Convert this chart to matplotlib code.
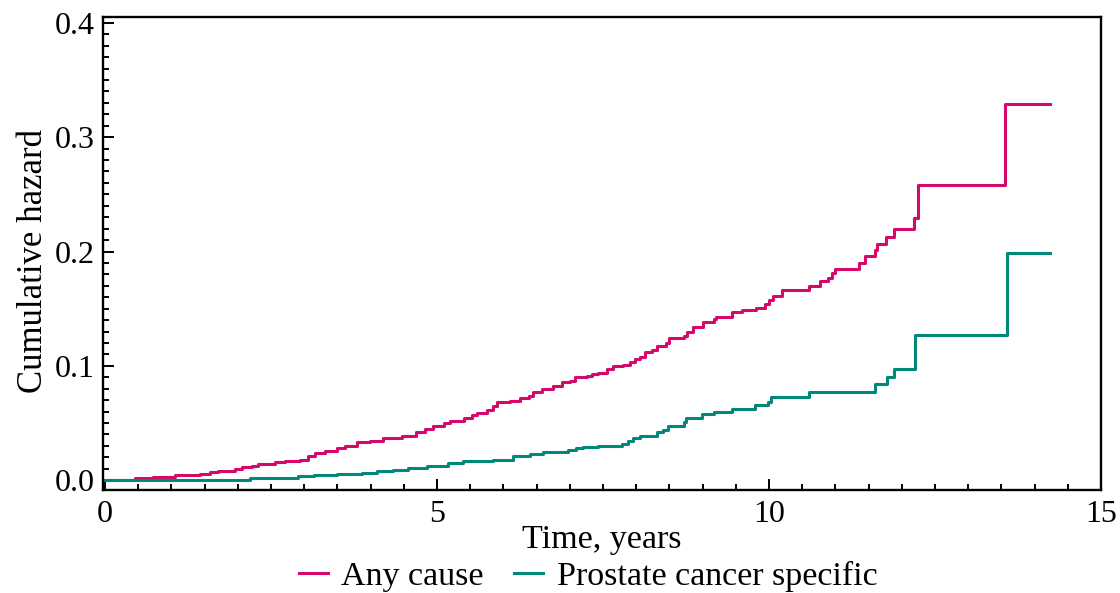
import numpy as np
import matplotlib.pyplot as plt
from matplotlib.ticker import MultipleLocator

# step points (time in years, cumulative hazard after the step)
any_t = [0, 0.45, 0.72, 1.05, 1.43, 1.58, 1.70, 1.96, 2.06, 2.21,
         2.31, 2.56, 2.71, 2.94, 3.06, 3.16, 3.31, 3.49, 3.61, 3.80,
         3.99, 4.19, 4.47, 4.68, 4.82, 4.94, 5.10, 5.20, 5.40, 5.53,
         5.60, 5.75, 5.84, 5.90, 6.10, 6.25, 6.39, 6.45, 6.58, 6.75,
         6.88, 7.00, 7.08, 7.26, 7.33, 7.43, 7.56, 7.65, 7.80, 7.90,
         7.98, 8.06, 8.13, 8.24, 8.31, 8.45, 8.50, 8.72, 8.76, 8.86,
         9.00, 9.17, 9.20, 9.44, 9.60, 9.80, 9.94, 10.00, 10.06, 10.20,
         10.60, 10.77, 10.89, 10.95, 11.00, 11.35, 11.45, 11.60, 11.63, 11.76,
         11.88, 12.18, 12.24, 13.55, 14.23]
any_h = [0, 0.0017, 0.0026, 0.0044, 0.0052, 0.0070, 0.0079, 0.0096, 0.0114, 0.0122,
         0.0140, 0.0157, 0.0166, 0.0180, 0.0210, 0.0236, 0.0253, 0.0280, 0.0297, 0.0330,
         0.0340, 0.0367, 0.0384, 0.0420, 0.0445, 0.0470, 0.0498, 0.0515, 0.0540, 0.0568,
         0.0590, 0.0610, 0.0646, 0.0680, 0.0690, 0.0716, 0.0734, 0.0770, 0.0795, 0.0820,
         0.0856, 0.0865, 0.0900, 0.0908, 0.0926, 0.0940, 0.0970, 0.0996, 0.1010, 0.1030,
         0.1060, 0.1080, 0.1120, 0.1140, 0.1170, 0.1200, 0.1240, 0.1260, 0.1300, 0.1340,
         0.1380, 0.1410, 0.1430, 0.1470, 0.1490, 0.1510, 0.1540, 0.1580, 0.1610, 0.1660,
         0.1700, 0.1740, 0.1770, 0.1810, 0.1850, 0.1900, 0.1960, 0.2010, 0.2070, 0.2130,
         0.2200, 0.2290, 0.2585, 0.3290, 0.3290]

pc_t = [0, 2.18, 2.90, 3.14, 3.50, 3.87, 4.10, 4.34, 4.56, 4.85,
        5.17, 5.39, 5.84, 6.15, 6.40, 6.60, 6.97, 7.10, 7.20, 7.43,
        7.79, 7.88, 7.95, 8.06, 8.31, 8.40, 8.48, 8.72, 8.75, 8.99,
        9.17, 9.44, 9.79, 9.98, 10.03, 10.60, 11.60, 11.78, 11.88, 12.20,
        13.58, 14.23]
pc_h = [0, 0.0017, 0.0035, 0.0044, 0.0052, 0.0060, 0.0079, 0.0087, 0.0105, 0.0122,
        0.0148, 0.0166, 0.0180, 0.0210, 0.0227, 0.0245, 0.0260, 0.0280, 0.0290, 0.0300,
        0.0320, 0.0340, 0.0367, 0.0384, 0.0420, 0.0437, 0.0470, 0.0507, 0.0540, 0.0576,
        0.0594, 0.0620, 0.0655, 0.0680, 0.0725, 0.0770, 0.0840, 0.0900, 0.0970, 0.1266,
        0.1990, 0.1990]

labels = ['Any cause', 'Prostate cancer specific']
colors = ['#d6096b', '#00897b']

plt.rcParams['font.family'] = ['Liberation Serif', 'DejaVu Serif']

fig = plt.figure(figsize=(11.2, 5.93), dpi=100)
ax = fig.add_axes([0.092, 0.174, 0.891, 0.797])

ax.step(any_t, any_h, where='post', color=colors[0], lw=2.2, label=labels[0])
ax.step(pc_t, pc_h, where='post', color=colors[1], lw=2.2, label=labels[1])

ax.set_xlim(-0.03, 15)
ax.set_ylim(-0.0085, 0.405)
ax.xaxis.set_major_locator(MultipleLocator(5))
ax.xaxis.set_minor_locator(MultipleLocator(0.5))
ax.yaxis.set_major_locator(MultipleLocator(0.1))
ax.yaxis.set_minor_locator(MultipleLocator(0.01))
ax.xaxis.set_major_formatter(lambda v, p: '%d' % v)
ax.yaxis.set_major_formatter(lambda v, p: '%.1f' % v)
ax.tick_params(which='both', direction='in', top=False, right=False,
               labelsize=23, width=1.4)
ax.tick_params(axis='x', which='both', pad=7)
ax.tick_params(axis='y', which='both', pad=6)
ax.tick_params(which='major', length=8)
ax.tick_params(which='minor', length=4)
for s in ax.spines.values():
    s.set_linewidth(1.7)

ax.set_xlabel('Time, years', fontsize=24.5, labelpad=-3)
ax.set_ylabel('Cumulative hazard', fontsize=25)
ax.yaxis.set_label_coords(-0.053, 0.484)

fig.legend(loc='lower center', bbox_to_anchor=(0.525, -0.05), ncol=2,
           frameon=False, fontsize=24.5, handlelength=0.85, handletextpad=0.4,
           columnspacing=0.9)

fig.savefig('out.png', dpi=100)
